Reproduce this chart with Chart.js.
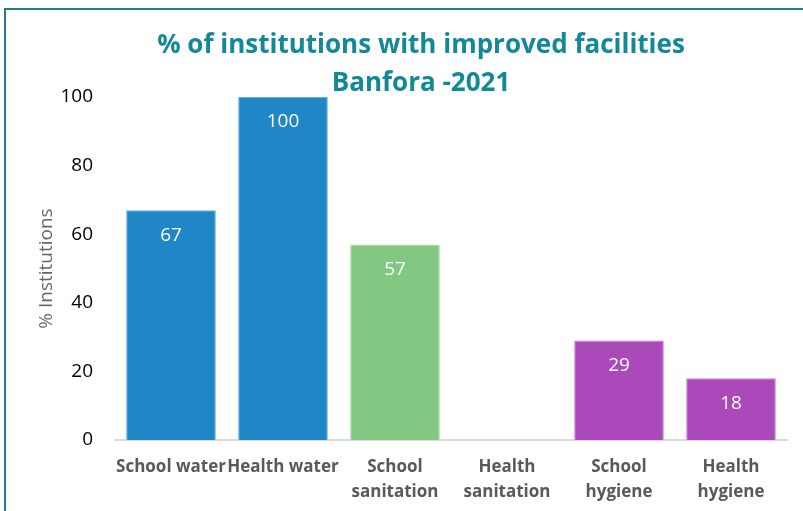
<!DOCTYPE html>
<html>
<head>
<meta charset="utf-8">
<script src="https://cdn.jsdelivr.net/npm/chart.js@4.4.1/dist/chart.umd.min.js"></script>
<style>
  html, body { margin: 0; padding: 0; background: #fff; overflow: hidden; }
  #wrap { position: relative; width: 803px; height: 511px; }
  #frame { position: absolute; left: 4px; top: 8px; width: 900px; height: 600px;
           border: 2px solid #1f7b8d; box-sizing: border-box; }
  #chart { position: absolute; left: 0; top: 0; }
</style>
</head>
<body>
<div id="wrap">
  <div id="frame"></div>
  <canvas id="chart" width="803" height="511"></canvas>
</div>
<script>
// ── data ────────────────────────────────────────────────────
const categories = [
  'School water', 'Health water', ['School', 'sanitation'],
  ['Health', 'sanitation'], ['School', 'hygiene'], ['Health', 'hygiene']
];
const values = [67, 100, 57, 0, 29, 18];
const barColors = ['#1f86c8', '#1f86c8', '#82c883', '#82c883', '#ab49ba', '#ab49ba'];
const edgeColors = ['#62aee2', '#62aee2', '#a9dcaa', '#a9dcaa', '#c782d2', '#c782d2'];
const titleLines = ['% of institutions with improved facilities', 'Banfora -2021'];
const yTicks = [0, 20, 40, 60, 80, 100];

const FONT = "'Open Sans', sans-serif";

// ── title + value labels drawn on the canvas ────────────────
const decorations = {
  id: 'decorations',
  afterDatasetsDraw(chart) {
    const ctx = chart.ctx;
    ctx.save();
    ctx.textAlign = 'center';
    ctx.textBaseline = 'middle';
    ctx.fillStyle = '#fff';
    ctx.font = '19px ' + FONT;
    chart.getDatasetMeta(0).data.forEach((bar, i) => {
      if (!values[i]) return;
      ctx.fillText(String(values[i]), bar.x, bar.y + 25);
    });
    ctx.restore();
  },
  afterDraw(chart) {
    const ctx = chart.ctx;
    ctx.save();
    ctx.textAlign = 'center';
    ctx.textBaseline = 'middle';
    ctx.fillStyle = '#138899';
    ctx.font = 'bold 26px ' + FONT;
    ctx.fillText(titleLines[0], 421, 46);
    ctx.fillText(titleLines[1], 421, 84);
    ctx.restore();
  }
};

new Chart(document.getElementById('chart'), {
  type: 'bar',
  data: {
    labels: categories,
    datasets: [{
      data: values,
      backgroundColor: barColors,
      borderColor: edgeColors,
      borderWidth: 1,
      barPercentage: 0.8,
      categoryPercentage: 1.0,
    }]
  },
  options: {
    responsive: false,
    animation: false,
    layout: { padding: { top: 97, right: 16, left: 0, bottom: 0 } },
    plugins: { legend: { display: false }, tooltip: { enabled: false } },
    scales: {
      x: {
        grid: { display: false, drawTicks: false },
        border: { color: '#d9d9d9', width: 2 },
        ticks: { color: '#595959', padding: 15, maxRotation: 0, autoSkip: false,
                 font: { family: FONT, size: 17, weight: 'bold', lineHeight: 1.45 } },
        afterFit: s => { s.height = 71; },
      },
      y: {
        min: 0, max: 100,
        grid: { display: false, drawTicks: false },
        border: { display: false },
        afterBuildTicks: s => { s.ticks = yTicks.map(v => ({ value: v })); },
        ticks: { color: '#000', padding: 22, font: { family: FONT, size: 19 } },
        title: { display: true, text: '% Institutions', color: '#666',
                 padding: { top: 35, bottom: 0 }, font: { family: FONT, size: 19 } },
        afterFit: s => { s.width = 115; },
      }
    }
  },
  plugins: [decorations]
});
</script>
</body>
</html>
